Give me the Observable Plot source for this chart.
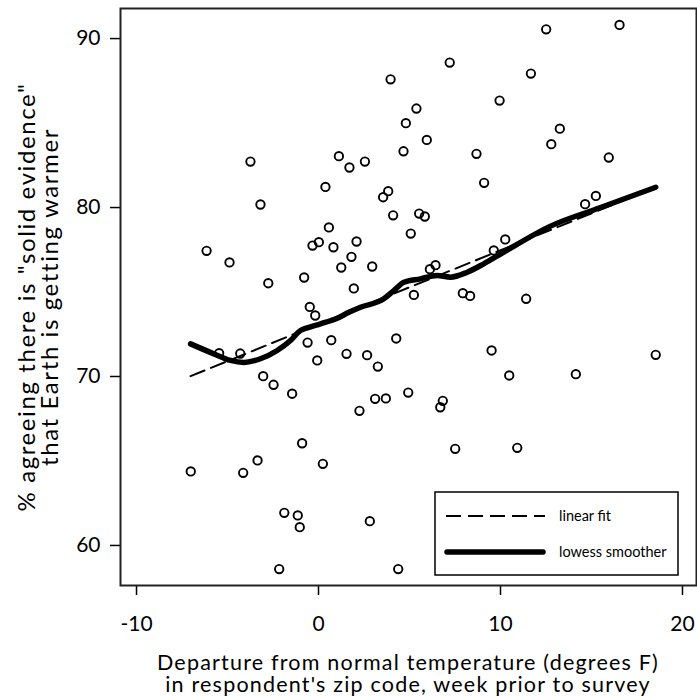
<!DOCTYPE html>
<html>
<head>
<meta charset="utf-8">
<script src="https://cdn.jsdelivr.net/npm/d3@7"></script>
<script src="https://cdn.jsdelivr.net/npm/@observablehq/plot@0.6"></script>
<style>
  html, body { margin: 0; padding: 0; background: white; }
  #chart svg { display: block; }
</style>
</head>
<body>
<div id="chart"></div>
<script>
// Scatter points: departure from normal temperature (°F) and % agreeing
const tempDeparture = [
  -3.74, 7.21, 3.96, 9.95, 5.38, 4.80, 5.95, 4.67, 8.68, 1.12,
  1.70, 2.55, 0.38, 9.10, 3.83, 3.55, 16.54, 12.51, 11.67, 13.26,
  12.79, 15.95, 15.24, -3.19, -6.15, -4.89, -2.76, -0.33, 0.02, -0.79,
  -0.48, -0.18, -0.60, -0.07, -5.46, -4.30, -3.04, -2.47, 4.10, 5.53,
  5.84, 0.57, 5.07, 2.09, 0.82, 1.81, 1.25, 2.95, 1.94, 6.12,
  6.43, 5.24, 7.93, 8.33, 10.26, 9.63, 0.70, 4.27, 1.54, 2.67,
  3.26, 9.51, 10.48, 14.65, 11.41, 18.53, 14.14, -1.45, -0.90, -3.35,
  -7.02, -4.14, 0.24, -1.88, -1.14, -1.03, -2.16, 2.25, 3.11, 3.70,
  4.93, 6.83, 6.69, 7.51, 2.82, 4.38, 10.92
];
const pctAgree = [
  82.72, 88.58, 87.59, 86.33, 85.86, 84.99, 84.00, 83.33, 83.18, 83.04,
  82.37, 82.72, 81.22, 81.46, 80.97, 80.61, 90.81, 90.55, 87.93, 84.67,
  83.75, 82.96, 80.69, 80.18, 77.44, 76.75, 75.52, 77.75, 77.95, 75.86,
  74.12, 73.61, 72.01, 70.95, 71.38, 71.36, 70.02, 69.51, 79.54, 79.64,
  79.47, 78.82, 78.46, 77.99, 77.65, 77.08, 76.45, 76.51, 75.21, 76.35,
  76.59, 74.83, 74.93, 74.77, 78.11, 77.46, 72.15, 72.25, 71.34, 71.26,
  70.59, 71.54, 70.06, 80.20, 74.60, 71.28, 70.14, 68.98, 66.05, 65.03,
  64.38, 64.30, 64.83, 61.93, 61.78, 61.08, 58.60, 67.97, 68.68, 68.70,
  69.05, 68.56, 68.18, 65.72, 61.44, 58.60, 65.78
];

// Linear fit
const fitX = [-7.03, 18.53];
const fitY = [70.02, 81.20];

// Lowess smoother
const lowessX = [-7.03, -5.75, -4.84, -4.10, -3.19, -2.27, -1.54, -0.99, -0.62, 0.11,
  1.03, 1.67, 2.31, 3.59, 4.14, 4.69, 5.60, 6.52, 7.25, 8.17, 9.08, 10.18, 12.75, 15.5, 18.53];
const lowessY = [71.93, 71.34, 70.95, 70.83, 71.05, 71.54, 72.13, 72.72, 72.88, 73.12,
  73.45, 73.80, 74.10, 74.60, 75.09, 75.58, 75.78, 75.98, 75.88, 76.17, 76.67, 77.36, 78.90, 80.00, 81.20];

const xTicks = [-10, 0, 10, 20];
const yTicks = [60, 70, 80, 90];

const xTitle = ["Departure from normal temperature (degrees F)", "in respondent's zip code, week prior to survey"];
const yTitle = ["% agreeing there is \"solid evidence\"", "that Earth is getting warmer"];
const legendLabels = ["linear fit", "lowess smoother"];

const points = tempDeparture.map((x, i) => ({x, y: pctAgree[i]}));
const fit = fitX.map((x, i) => ({x, y: fitY[i]}));
const lowess = lowessX.map((x, i) => ({x, y: lowessY[i]}));

const FONT = "Lato, 'Open Sans', sans-serif";

const plot = Plot.plot({
  width: 697,
  height: 696,
  marginLeft: 120,
  marginRight: 1,
  marginTop: 8,
  marginBottom: 111,
  style: {fontFamily: FONT, fontSize: "21px", color: "black", background: "white"},
  x: {domain: [-10.88, 20.77]},
  y: {domain: [57.63, 91.78]},
  marks: [
    Plot.axisX({ticks: xTicks, tickSize: 10, tickPadding: 21, tickFormat: d => String(d), label: null, fontSize: 21, strokeWidth: 1.5}),
    Plot.axisY({ticks: yTicks, tickSize: 10, tickPadding: 10, tickFormat: d => String(d), label: null, fontSize: 21, strokeWidth: 1.5}),
    Plot.dot(points, {x: "x", y: "y", r: 4.2, stroke: "black", strokeWidth: 1.9, fill: "none"}),
    Plot.line(fit, {x: "x", y: "y", stroke: "black", strokeWidth: 2, strokeDasharray: "15,7"}),
    Plot.line(lowess, {x: "x", y: "y", stroke: "black", strokeWidth: 5.5, curve: "monotone-x", strokeLinecap: "round", strokeLinejoin: "round"}),
    Plot.frame({stroke: "#222", strokeWidth: 2})
  ]
});

document.getElementById("chart").appendChild(plot);

const svg = d3.select(plot);

// Axis titles
const xt = svg.append("text").attr("text-anchor", "middle")
  .attr("font-family", FONT).attr("font-size", 21.5).attr("letter-spacing", 1.2).attr("fill", "black");
xt.append("tspan").attr("x", 408).attr("y", 670).text(xTitle[0]);
xt.append("tspan").attr("x", 408).attr("y", 692).text(xTitle[1]);

const yt = svg.append("text").attr("text-anchor", "middle")
  .attr("font-family", FONT).attr("font-size", 24).attr("letter-spacing", 1.6).attr("fill", "black")
  .attr("transform", "translate(0,297) rotate(-90)");
yt.append("tspan").attr("x", 0).attr("y", 35).text(yTitle[0]);
yt.append("tspan").attr("x", 0).attr("y", 58).text(yTitle[1]);

// Legend
const lg = svg.append("g").attr("text-anchor", "start");
lg.append("rect").attr("x", 435).attr("y", 492).attr("width", 243).attr("height", 83)
  .attr("fill", "white").attr("stroke", "black").attr("stroke-width", 1.5);
lg.append("line").attr("x1", 446).attr("x2", 545).attr("y1", 516).attr("y2", 516)
  .attr("stroke", "black").attr("stroke-width", 2).attr("stroke-dasharray", "15,7");
lg.append("line").attr("x1", 447).attr("x2", 543).attr("y1", 552).attr("y2", 552)
  .attr("stroke", "black").attr("stroke-width", 5.5).attr("stroke-linecap", "round");
lg.append("text").attr("x", 559).attr("y", 516).attr("dy", "0.35em").attr("text-anchor", "start")
  .attr("font-family", FONT).attr("font-size", 14.5).attr("fill", "black").text(legendLabels[0]);
lg.append("text").attr("x", 559).attr("y", 552).attr("dy", "0.35em").attr("text-anchor", "start")
  .attr("font-family", FONT).attr("font-size", 14.5).attr("fill", "black").text(legendLabels[1]);
</script>
</body>
</html>
